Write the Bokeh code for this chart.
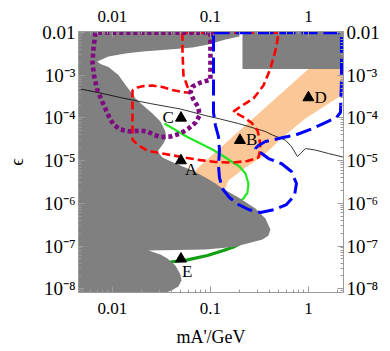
from bokeh.plotting import figure
from bokeh.models import FixedTicker, CustomJSTickFormatter, LogAxis, Range1d
from bokeh.core.properties import value
from bokeh.embed import file_html
from bokeh.resources import INLINE

# ---------------- data (mA' in GeV, epsilon) ----------------
x_ticks = [0.01, 0.1, 1]
y_ticks = [1e-8, 1e-7, 1e-6, 1e-5, 1e-4, 1e-3, 1e-2]

gray_main_m = [0.004, 0.1977, 0.1977, 0.1422, 0.0954, 0.0655, 0.0439, 0.0203, 0.0136, 0.0091,
               0.0070, 0.00755, 0.0091, 0.0115, 0.0136, 0.0153, 0.0172, 0.0203, 0.0256, 0.0309,
               0.0347, 0.0351, 0.0331, 0.0288, 0.0324, 0.0439, 0.0655, 0.0889, 0.1125, 0.1325,
               0.1931, 0.2878, 0.3642, 0.4094, 0.3908, 0.3394, 0.2277, 0.1717, 0.0889, 0.0439,
               0.0233, 0.0309, 0.0364, 0.0439, 0.0494, 0.0506, 0.0471, 0.040, 0.0331, 0.004]
gray_main_eps = [0.012, 0.012, 8.05e-3, 6.86e-3, 5.24e-3, 4.46e-3, 4.11e-3, 3.59e-3, 3.22e-3, 2.74e-3,
                 2.09e-3, 1.83e-3, 1.56e-3, 1.01e-3, 5.89e-4, 4.15e-4, 2.85e-4, 2.0e-4, 1.27e-4, 8.24e-5,
                 4.8e-5, 3.29e-5, 2.51e-5, 1.63e-5, 1.18e-5, 8.55e-6, 5.86e-6, 4.02e-6, 2.91e-6, 2.22e-6,
                 1.37e-6, 7.56e-7, 4.41e-7, 2.43e-7, 1.76e-7, 1.42e-7, 1.11e-7, 9.48e-8, 8.28e-8, 8.06e-8,
                 7.85e-8, 6.33e-8, 5.10e-8, 3.49e-8, 2.15e-8, 1.56e-8, 1.13e-8, 9.08e-9, 7.72e-9, 7e-9]

gray_top_m = [0.2122, 3.0, 3.0, 0.2122]
gray_top_eps = [0.012, 0.012, 1.40e-3, 1.40e-3]

orange_m = [1.0, 3.0, 3.0, 0.9315, 0.5433, 0.3394, 0.2277, 0.1528, 0.1325, 0.0556, 0.0791]
orange_eps = [1.40e-3, 1.40e-3, 5.43e-4, 9.68e-5, 3.48e-5, 1.25e-5, 6.89e-6, 3.42e-6, 1.52e-6, 3.42e-6, 7.67e-6]

green_up_m = [0.0339, 0.0439, 0.0582, 0.0791, 0.1047, 0.1325, 0.1638, 0.1977, 0.2277, 0.2443,
              0.2387, 0.2172, 0.1841, 0.1528]
green_up_eps = [7.4e-5, 5.22e-5, 3.57e-5, 2.51e-5, 1.82e-5, 1.32e-5, 9.53e-6, 7.28e-6, 4.99e-6, 2.91e-6,
                1.79e-6, 1.29e-6, 1.04e-6, 9.89e-7]

green_low_m = [0.0309, 0.0391, 0.0582, 0.0931, 0.1358, 0.1717, 0.2024]
green_low_eps = [4.0e-8, 4.22e-8, 4.75e-8, 6.0e-8, 7.85e-8, 9.48e-8, 1.15e-7]

red_m = [0.0518, 0.0518, 0.0530, 0.0582, 0.0625, 0.0530, 0.0409, 0.0324, 0.0256, 0.0207,
         0.0180, 0.0160, 0.0160, 0.0160, 0.0160, 0.0184, 0.02275, 0.0309, 0.0419, 0.0582,
         0.0791, 0.1125, 0.1676, 0.2387, 0.309, 0.3237, 0.3162, 0.302, 0.262, 0.2122,
         0.1717, 0.2024, 0.2748, 0.3475, 0.4094, 0.4603, 0.4826, 0.4941, 0.0518]
red_eps = [0.0099, 3.79e-3, 1.0e-3, 5.4e-4, 3.9e-4, 4.0e-4, 4.5e-4, 5.3e-4, 5.74e-4, 5.58e-4,
           5.15e-4, 4.38e-4, 1.95e-4, 6.64e-5, 3.12e-5, 2.26e-5, 1.72e-5, 1.5e-5, 1.32e-5, 1.15e-5,
           1.03e-5, 9.3e-6, 9.0e-6, 9.8e-6, 1.18e-5, 1.92e-5, 3.29e-5, 5.07e-5, 7.8e-5, 1.08e-4,
           1.41e-4, 1.85e-4, 2.85e-4, 5.74e-4, 1.44e-3, 3.79e-3, 6.5e-3, 0.0099, 0.0099]

purple_m = [0.0067, 0.0064, 0.00625, 0.00648, 0.00703, 0.0081, 0.0091, 0.01024, 0.01207, 0.01528,
            0.01931, 0.02275, 0.0262, 0.0309, 0.0391, 0.0494, 0.0597, 0.0704, 0.0773, 0.0755,
            0.0671, 0.0625, 0.0655, 0.0791, 0.100, 0.100, 0.0067]
purple_eps = [0.0099, 4.22e-3, 1.98e-3, 9.84e-4, 4.38e-4, 2.06e-4, 1.14e-4, 7.0e-5, 5.35e-5, 4.8e-5,
              5.07e-5, 4.8e-5, 4.09e-5, 3.57e-5, 3.67e-5, 4.31e-5, 5.65e-5, 7.8e-5, 1.14e-4, 1.75e-4,
              2.7e-4, 3.93e-4, 5.43e-4, 6.74e-4, 7.92e-4, 0.0099, 0.0099]

blue_m = [0.1074, 2.173, 2.173, 2.173, 2.123, 1.932, 1.49, 1.099, 0.7364, 0.4941,
          0.3642, 0.309, 0.2878, 0.3237, 0.3908, 0.5296, 0.671, 0.7551, 0.7197, 0.5966,
          0.4498, 0.3237, 0.2443, 0.1931, 0.1563, 0.1325, 0.1236, 0.1208, 0.1236, 0.1208,
          0.1125, 0.1074, 0.1074]
blue_eps = [0.0099, 0.0099, 4.97e-3, 7.52e-4, 1.34e-4, 1.02e-4, 7.8e-5, 5.65e-5, 3.98e-5, 3.29e-5,
            2.8e-5, 2.26e-5, 1.92e-5, 1.55e-5, 1.12e-5, 8.55e-6, 5.56e-6, 2.91e-6, 1.52e-6, 9.38e-7,
            7.16e-7, 6.1e-7, 7.16e-7, 9.38e-7, 1.37e-6, 2.22e-6, 4.02e-6, 7.67e-6, 1.72e-5, 3.67e-5,
            6.64e-5, 1.34e-4, 0.0099]

black_m = [0.0045, 0.00755, 0.01207, 0.0244, 0.0494, 0.0889, 0.1265, 0.1931, 0.2878, 0.3642,
           0.4296, 0.5821, 0.671, 0.7727, 0.8285, 0.9315, 1.178, 1.599, 2.275]
black_eps = [4.89e-4, 3.83e-4, 3.0e-4, 2.17e-4, 1.62e-4, 1.14e-4, 9.42e-5, 7.4e-5, 5.65e-5, 4.8e-5,
             3.98e-5, 3.03e-5, 2.14e-5, 1.25e-5, 1.47e-5, 1.92e-5, 1.77e-5, 1.47e-5, 1.21e-5]

bench_names = ["A", "B", "C", "D", "E"]
bench_m = [0.05, 0.2, 0.05, 1.0, 0.05]
bench_eps = [1e-5, 3e-5, 1e-4, 3e-4, 5e-8]

# ---------------- figure ----------------
FONT = "Liberation Serif"
p = figure(width=390, height=351, x_axis_type="log", y_axis_type="log",
           x_range=Range1d(0.0045, 2.28), y_range=Range1d(8.15e-9, 0.0106),
           output_backend="svg", toolbar_location=None,
           min_border_left=78, min_border_right=47, min_border_top=31, min_border_bottom=59)
p.xgrid.visible = False
p.ygrid.visible = False
p.outline_line_color = "#9a9a9a"
p.background_fill_color = "white"

# shapes
p.patch(orange_m, orange_eps, fill_color="#fcc797", line_color=None)
p.line(green_up_m, green_up_eps, line_color="#22e622", line_width=2.2)
p.line(green_low_m, green_low_eps, line_color="#12a012", line_width=3.2)
p.patch(gray_main_m, gray_main_eps, fill_color="#808080", line_color=None)
p.patch(gray_top_m, gray_top_eps, fill_color="#808080", line_color=None)
p.line(black_m, black_eps, line_color="black", line_width=0.8)
p.line(red_m, red_eps, line_color="#ff0000", line_width=2.6, line_dash="8 4")
p.line(purple_m, purple_eps, line_color="#7d0a80", line_width=4.6, line_dash="4 3")
p.line(blue_m, blue_eps, line_color="#0000ff", line_width=3, line_dash="16 6")

# benchmark points
p.scatter(bench_m, bench_eps, marker="triangle", size=11, color="black")
lab_align = ["left", "left", "right", "left", "left"]
lab_dx = [4, 6, -7, 6, 1]
lab_dy = [9, -1, 0, 0, 13]
for i in range(len(bench_names)):
    p.text([bench_m[i]], [bench_eps[i]], text=[bench_names[i]], text_font=value(FONT),
           text_font_size="17px", text_align=lab_align[i], text_baseline="middle",
           x_offset=lab_dx[i], y_offset=lab_dy[i], text_color="black")

# axes
minor_x = [k * 10.0 ** n for n in (-3, -2, -1, 0) for k in range(2, 10)]
minor_y = [k * 10.0 ** n for n in range(-9, -2) for k in range(2, 10)]
x_ticker = FixedTicker(ticks=x_ticks, minor_ticks=minor_x)
y_ticker = FixedTicker(ticks=y_ticks, minor_ticks=minor_y)
x_fmt = CustomJSTickFormatter(code="return tick >= 1 ? tick.toFixed(0) : String(Number(tick.toPrecision(2)));")
y_fmt = CustomJSTickFormatter(code="""
const sup = {"-":"\u207b","0":"\u2070","1":"\u00b9","2":"\u00b2","3":"\u00b3","4":"\u2074",
             "5":"\u2075","6":"\u2076","7":"\u2077","8":"\u2078","9":"\u2079"};
const e = Math.round(Math.log10(tick));
if (e == -2) return "0.01";
return "10" + String(e).split("").map(c => sup[c]).join("");
""")

p.add_layout(LogAxis(), "above")
p.add_layout(LogAxis(), "right")

for ax in p.xaxis:
    ax.ticker = x_ticker
    ax.formatter = x_fmt
    ax.major_label_text_font_size = "17px"
    ax.major_label_standoff = 10
for ax in p.yaxis:
    ax.ticker = y_ticker
    ax.formatter = y_fmt
    ax.major_label_text_font_size = "19px"
    ax.major_label_standoff = 3
for ax in p.xaxis + p.yaxis:
    ax.major_label_text_font = FONT
    ax.major_label_text_color = "black"
    ax.axis_line_color = "#9a9a9a"
    ax.major_tick_line_color = "#9a9a9a"
    ax.minor_tick_line_color = "#9a9a9a"
    ax.major_tick_in = 6
    ax.major_tick_out = 0
    ax.minor_tick_in = 3
    ax.minor_tick_out = 0
    ax.axis_label_text_font = FONT
    ax.axis_label_text_font_style = "normal"
    ax.axis_label_text_font_size = "18px"
    ax.axis_label_text_color = "black"

p.below[0].axis_label = "mA'/GeV"
p.below[0].axis_label_standoff = 10
p.left[0].axis_label = "\u03f5"
p.left[0].axis_label_standoff = 12

open("out.html", "w").write(file_html(p, INLINE))
